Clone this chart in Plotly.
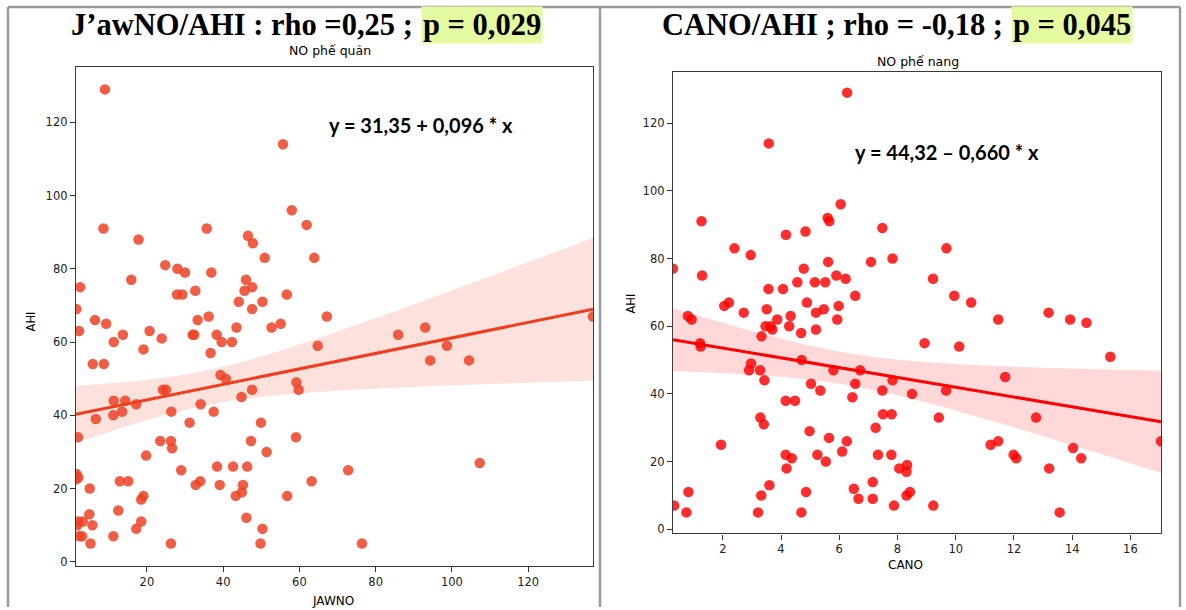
import numpy as np
import plotly.graph_objects as go

W, H = 1186, 610

# ---- NO phế quản : JAWNO vs AHI ----
jawno = [9, 55.7, 58, 8.6, 35.7, 61.9, 17.8, 46.5, 47.8, 50.9, 63.9, 24.8, 28, 30, 36.9,
         15.9, 46, 2.5, 45.6, 47.6, 32.7, 27.9, 29.3, 56.7, 1.5, 44.1, 50.3, 47.6, 6.4, 9.3,
         33.3, 36.2, 67.2, 43.5, 52.7, 55.1, 2.2, 13.7, 20.7, 23.9, 32.0, 32.4, 38.3, 11.3,
         39.6, 42.3, 64.8, 19.1, 36.7, 5.8, 8.7, 39.3, 40.7, 59.2, 59.8, 47.6, 24.2, 25.0,
         44.8, 11.3, 14.3, 17.2, 34.1, 6.6, 11.2, 13.5, 26.4, 37.5, 31.2, 49.9, 1.9, 1.5,
         2.0, 1.4, 5.0, 2.0, 3.2, 1.8, 2.3, 3.0, 4.9, 5.7, 5.2, 11.2, 12.5, 12.9, 15.1, 19.1,
         18.5, 18.5, 17.2, 19.8, 23.5, 26.3, 26.6, 29, 26.3, 32.8, 34, 38.4, 39.1, 42.6,
         46.3, 43.3, 44.9, 45.2, 46.1, 47.3, 51.4, 50.3, 49.8, 56.8, 59.1, 85.9, 93, 98.7,
         94.3, 104.5, 72.8, 63.2, 107.3, 76.4, 137]
ahi_left = [129, 114, 96, 91, 91, 92, 88, 89, 87, 83, 83, 81, 80, 79, 79,
            77, 77, 75, 74, 75, 74, 73, 73, 73, 69, 71, 71, 69, 66, 65,
            66, 67, 67, 64, 64, 65, 63, 62, 63, 61, 62, 62, 62, 60,
            60, 60, 59, 58, 57, 54, 54, 51, 50, 49, 47, 47, 47, 47,
            45, 44, 44, 43, 43, 39, 40, 41, 41, 41, 38, 38, 34, 24,
            23, 22.5, 20, 11, 11, 10, 7, 7, 13, 10, 5, 7, 14, 22, 22, 18,
            17, 11, 9, 29, 33, 33, 31, 25, 5, 21, 22, 26, 21, 26,
            26, 18, 19, 21, 12, 33, 30, 9, 5, 18, 34, 62, 64, 59,
            55, 55, 25, 22, 27, 5, 67]

# ---- NO phế nang : CANO vs AHI ----
cano = [6.27, 3.58, 6.05, 5.6, 5.66, 1.27, 7.48, 4.17, 4.84, 2.4, 2.96, 0.29, 1.29, 4.78,
        5.62, 7.09, 7.83, 4.56, 5.16, 5.52, 5.9, 6.22, 3.57, 4.07, 4.89, 6.55, 2.05, 2.21,
        2.72, 3.51, 5.98, 5.47, 5.2, 4.33, 3.87, 5.93, 0.8, 0.93, 3.47, 3.64, 3.7, 4.28,
        5.2, 4.69, 3.33, 9.68, 9.22, 9.95, 10.53, 11.46, 13.19, 13.93, 14.49, 1.22, 1.24,
        8.93, 10.12, 15.31, 4.71, 2.97, 2.9, 3.28, 3.43, 5.8, 6.72, 7.83, 11.7, 9.67, 5.03,
        5.35, 6.55, 6.45, 7.48, 8.5, 4.16, 4.48, 7.5, 7.8, 9.42, 12.76, 3.29, 3.41, 0.33,
        0.75, 0.82, 1.94, 3.32, 3.21, 3.6, 4.16, 4.37, 4.19, 4.7, 4.86, 4.98, 5.25, 5.54,
        5.65, 6.1, 6.26, 6.5, 6.66, 7.15, 7.15, 7.25, 7.33, 7.79, 7.88, 8.06, 8.31, 8.33,
        8.31, 8.43, 9.23, 11.2, 11.46, 11.99, 12.08, 14.03, 14.31, 13.21, 13.57, 17.05]
ahi_right = [129, 114, 96, 92, 91, 91, 89, 87, 88, 83, 81, 77, 75, 77,
             79, 79, 80, 73, 73, 73, 75, 74, 71, 71, 67, 69, 66, 67,
             64, 65, 66, 65, 64, 63, 62, 62, 63, 62, 60, 60, 59, 60,
             59, 58, 57, 83, 74, 69, 67, 62, 64, 62, 61, 55, 54,
             55, 54, 51, 50, 49, 47, 47, 44, 47, 47, 44, 45, 41, 43,
             41, 43, 39, 41, 40, 38, 38, 34, 34, 33, 33, 33, 31, 7,
             5, 11, 25, 10, 5, 13, 22, 21, 18, 5, 11, 29, 22, 20,
             27, 23, 26, 12, 9, 14, 9, 30, 22, 22, 7, 18, 17, 19,
             10, 11, 7, 25, 26, 22, 21, 24, 21, 18, 5, 26]

y_ticks = [0, 20, 40, 60, 80, 100, 120]
x_ticks_left = [20, 40, 60, 80, 100, 120]
x_ticks_right = [2, 4, 6, 8, 10, 12, 14, 16]


def regression(x, y, t_crit=1.98, npts=120):
    """Least-squares line with a 95% band for the mean prediction."""
    x = np.asarray(x, float)
    y = np.asarray(y, float)
    n = len(x)
    slope, intercept = np.polyfit(x, y, 1)
    xs = np.linspace(x.min(), x.max(), npts)
    yh = intercept + slope * xs
    resid = y - (intercept + slope * x)
    s = np.sqrt((resid ** 2).sum() / (n - 2))
    sxx = ((x - x.mean()) ** 2).sum()
    se = s * np.sqrt(1.0 / n + (xs - x.mean()) ** 2 / sxx)
    return xs, yh, yh - t_crit * se, yh + t_crit * se


def px_x(p):
    return p / W


def px_y(p):
    return 1 - p / H


fig = go.Figure()

panels = [
    dict(x=jawno, y=ahi_left, xa="x", ya="y",
         dot="rgba(236,66,36,0.85)", line="rgb(238,62,30)", band="rgba(240,80,50,0.17)"),
    dict(x=cano, y=ahi_right, xa="x2", ya="y2",
         dot="rgba(255,0,0,0.82)", line="rgb(255,0,0)", band="rgba(255,0,0,0.15)"),
]

for p in panels:
    xs, yh, lo, hi = regression(p["x"], p["y"])
    fig.add_trace(go.Scatter(x=np.concatenate([xs, xs[::-1]]),
                             y=np.concatenate([hi, lo[::-1]]),
                             fill="toself", fillcolor=p["band"], line=dict(width=0),
                             mode="lines", hoverinfo="skip", showlegend=False,
                             xaxis=p["xa"], yaxis=p["ya"]))
    fig.add_trace(go.Scatter(x=p["x"], y=p["y"], mode="markers",
                             marker=dict(size=10.5, color=p["dot"], line=dict(width=0)),
                             showlegend=False, xaxis=p["xa"], yaxis=p["ya"]))
    fig.add_trace(go.Scatter(x=xs, y=yh, mode="lines",
                             line=dict(color=p["line"], width=3),
                             showlegend=False, xaxis=p["xa"], yaxis=p["ya"]))


def y_range(vals):
    lo, hi = min(vals), max(vals)
    pad = 0.05 * (hi - lo)
    return [lo - pad, hi + pad]


axis_common = dict(showgrid=False, zeroline=False, showline=True, mirror=True,
                   linecolor="#3a3a3a", linewidth=1.3, ticks="outside", ticklen=5,
                   tickwidth=1, tickcolor="#333",
                   tickfont=dict(family="DejaVu Sans", size=11.5, color="#222"))

fig.update_layout(
    width=W, height=H, autosize=False,
    margin=dict(l=0, r=0, t=0, b=0),
    paper_bgcolor="white", plot_bgcolor="white",
    xaxis=dict(domain=[px_x(76), px_x(593)], range=[min(jawno), max(jawno)],
               tickvals=x_ticks_left, anchor="y", **axis_common),
    yaxis=dict(domain=[px_y(569), px_y(67)], range=y_range(ahi_left),
               tickvals=y_ticks, anchor="x", **axis_common),
    xaxis2=dict(domain=[px_x(673), px_x(1161)], range=[min(cano), max(cano)],
                tickvals=x_ticks_right, anchor="y2", **axis_common),
    yaxis2=dict(domain=[px_y(536), px_y(72)], range=y_range(ahi_right),
                tickvals=y_ticks, anchor="x2", **axis_common),
)

# gray panel frames
frame = dict(type="line", xref="paper", yref="paper", line=dict(color="#9a9a9a", width=2.5))
fig.add_shape(x0=px_x(8), x1=px_x(1180), y0=px_y(7), y1=px_y(7), **frame)
fig.add_shape(x0=px_x(8), x1=px_x(8), y0=px_y(7), y1=0, **frame)
fig.add_shape(x0=px_x(600), x1=px_x(600), y0=px_y(7), y1=0, **frame)
fig.add_shape(x0=px_x(1180), x1=px_x(1180), y0=px_y(7), y1=0, **frame)

title_font = dict(family="Liberation Serif", size=30.5, color="black")
hl = "#e5fba2"


def note(text, x, y, size=12, family="DejaVu Sans", xanchor="center", angle=0,
         bold=False, bg=None, font=None, pad=1):
    f = font or dict(family=family, size=size, color="black")
    fig.add_annotation(text=f"<b>{text}</b>" if bold else text,
                       x=px_x(x), y=px_y(y), xref="paper", yref="paper",
                       xanchor=xanchor, yanchor="middle", showarrow=False,
                       textangle=angle, font=f,
                       bgcolor=bg if bg else "rgba(0,0,0,0)", borderpad=pad)


# headline titles
note("J’awNO/AHI : rho =0,25 ;", 414, 25, xanchor="right", bold=True, font=title_font, pad=0)
note("p = 0,029", 421, 25, xanchor="left", bold=True, font=title_font, bg=hl, pad=1)
note("CANO/AHI ; rho = -0,18 ;", 1004, 25, xanchor="right", bold=True, font=title_font, pad=0)
note("p = 0,045", 1011, 25, xanchor="left", bold=True, font=title_font, bg=hl, pad=1)

# panel subtitles
note("NO phế quản", 330, 51, size=12.5)
note("NO phế nang", 918, 62, size=12.5)

# regression equations
eq_font = dict(family="Lato", size=20, color="black")
note("y = 31,35 + 0,096 * x", 421, 126, bold=True, font=eq_font)
note("y = 44,32 – 0,660 * x", 947, 153, bold=True, font=eq_font)

# axis titles
note("AHI", 31, 323, size=11.5, angle=-90)
note("JAWNO", 333, 604, size=12)
note("AHI", 630, 305, size=11.5, angle=-90)
note("CANO", 905, 568, size=12)

fig.write_html("out.html")
